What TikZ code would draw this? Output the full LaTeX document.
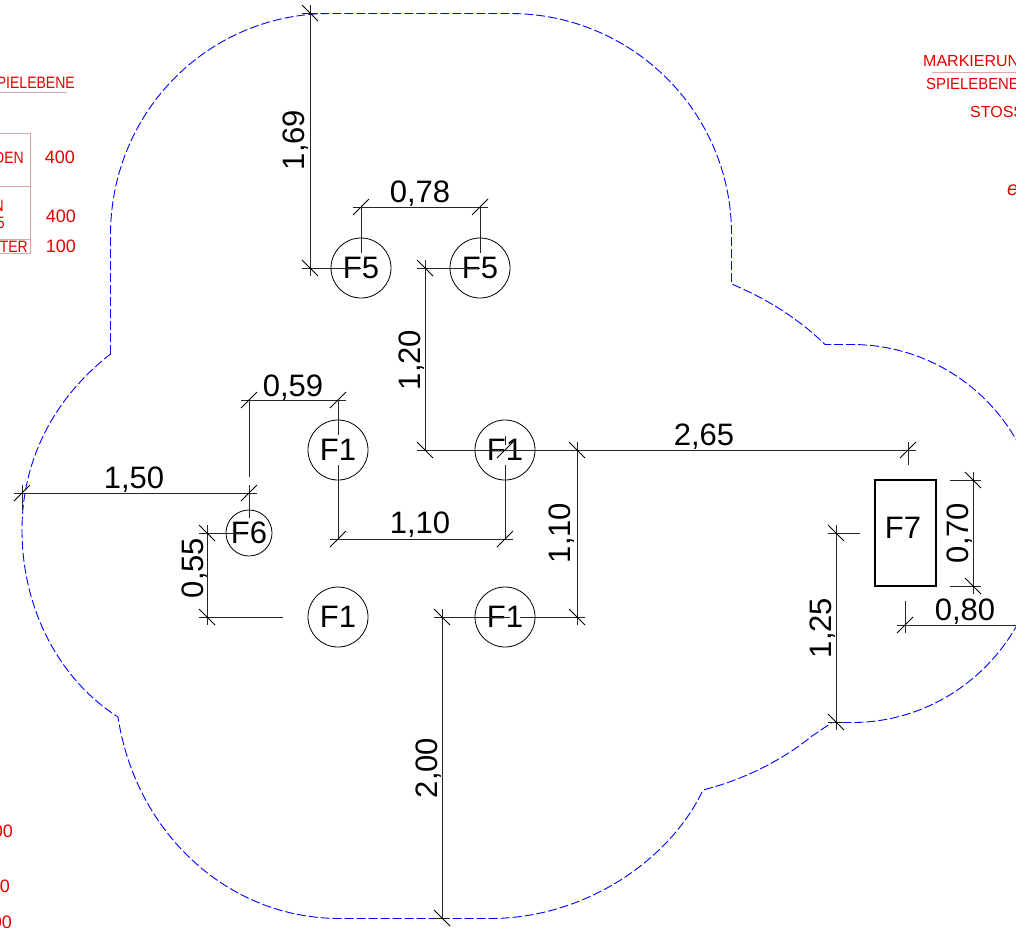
\documentclass[tikz,border=0pt]{standalone}
\usepackage{fontspec}
\setmainfont{Liberation Sans}
\newfontfamily\narrowred[FakeStretch=.85]{Liberation Sans}
\newfontfamily\midred[FakeStretch=.93]{Liberation Sans}
\newcommand{\tkf}[1]{\draw[tickmark] ([shift={(-8,8)}]#1) -- ([shift={(8,-8)}]#1);}
\newcommand{\tkb}[1]{\draw[tickmark] ([shift={(-8,-8)}]#1) -- ([shift={(8,8)}]#1);}
\tikzset{
  dimline/.style={line width=1pt,black!85,shorten <=-8pt,shorten >=-8pt},
  extline/.style={line width=1pt,black!85},
  tickmark/.style={line width=.8pt,black},
  boundary/.style={line width=.9pt,blue,dash pattern=on 9pt off 3pt},
  fcircle/.style={draw,circle,line width=.8pt,inner sep=0pt,minimum size=60pt,font=\fontsize{31}{31}\selectfont},
  dimtext/.style={anchor=base,font=\fontsize{31}{31}\selectfont,inner sep=0pt},
  vdimtext/.style={dimtext,rotate=90},
  redtext/.style={red!90!black,anchor=base west,inner sep=0pt,font=\fontsize{16}{16}\selectfont},
  redleft/.style={red!90!black,anchor=base east,inner sep=0pt,font=\narrowred\fontsize{16.5}{16.5}\selectfont},
  rednum/.style={red!90!black,anchor=base east,inner sep=0pt,font=\fontsize{18}{18}\selectfont},
  redrule/.style={line width=.8pt,red!60!black!35},
}
\begin{document}
\begin{tikzpicture}[x=1pt,y=-1pt]
\useasboundingbox (0,0) rectangle (1016,927);
\clip (0,0) rectangle (1016,927);
% boundary
\draw[boundary] (110.5,354) -- (110.5,235)
  .. controls (110.5,112) and (208,13.5) .. (330,13.5) -- (510,13.5)
  .. controls (632,13.5) and (731.5,112) .. (731.5,234) -- (731.5,284)
  .. controls (763,297) and (797,317) .. (825,344.5) -- (852,344.5)
  .. controls (956,344.5) and (1041,429) .. (1041,533)
  .. controls (1041,637) and (956,722.5) .. (852,722.5) -- (832,722.5) -- (812,736)
  .. controls (780,762) and (742,780) .. (703,790)
  .. controls (670,860) and (585,918.5) .. (490,918.5) -- (340,918.5)
  .. controls (225,918.5) and (135,830) .. (118,717)
  .. controls (60,680) and (22,610) .. (22,530)
  .. controls (22,455) and (58,395) .. (110.5,354);
% red margin marks
\node[redleft] (t1) at (75,88) {PIELEBENE};
\node[redleft] (t2) at (24,163) {DEN};
\node[redleft] (t3) at (4,211) {N};
\node[redleft] (t4) at (5,228) {5};
\node[redleft] (t5) at (28,252) {TER};
\node[rednum] (n1) at (75,163) {400};
\node[rednum] (n2) at (76,222) {400};
\node[rednum] (n3) at (76,252) {100};
\node[rednum] (n4) at (13,837) {00};
\node[rednum] (n5) at (10,892) {0};
\node[rednum] (n6) at (12,928) {00};
\node[redtext] (r1) at (923,66) {MARKIERUNG};
\node[redtext,font=\midred\fontsize{16}{16}\selectfont] (r2) at (926,89) {SPIELEBENE};
\node[redtext] (r3) at (970,117) {STOSS};
\node[redtext,font=\fontsize{20}{20}\selectfont\itshape] (r4) at (1007,195) {e};
\draw[redrule] (0,92) -- (67,92);
\draw[redrule] (0,133) -- (30,133) -- (30,253) -- (0,253);
\draw[redrule] (0,186) -- (30,186);
\draw[redrule] (0,239) -- (30,239);
\draw[redrule] (932,72) -- (1016,72);
% objects
\node[fcircle] (f5a) at (361,268) {F5};
\node[fcircle] (f5b) at (480,268) {F5};
\node[fcircle] (f1a) at (338,450) {F1};
\node[fcircle] (f1b) at (505,450) {F1};
\node[fcircle] (f1c) at (338,617) {F1};
\node[fcircle] (f1d) at (505,617) {F1};
\node[fcircle,minimum size=46pt] (f6) at (249,533) {F6};
\node[draw,line width=1.3pt,minimum width=61pt,minimum height=106pt,inner sep=0pt] (f7) at (905.5,533) {};
\node[font=\fontsize{31}{31}\selectfont,inner sep=0pt] (f7t) at (903,528) {F7};
% dimension points
\coordinate (a1) at (310,13);   \coordinate (a2) at (310,268);
\coordinate (b1) at (361,207);  \coordinate (b2) at (480,207);
\coordinate (c1) at (425,268);  \coordinate (c2) at (425,450);
\coordinate (d1) at (249,400);  \coordinate (d2) at (338,400);
\coordinate (e1) at (22,493);   \coordinate (e2) at (249,493);
\coordinate (g1) at (207,533);  \coordinate (g2) at (207,617);
\coordinate (h1) at (338,539);  \coordinate (h2) at (505,539);
\coordinate (i1) at (908,450);  \coordinate (i2) at (505,450);
\coordinate (j1) at (577,450);  \coordinate (j2) at (577,617);
\coordinate (k1) at (442,617);  \coordinate (k2) at (442,918);
\coordinate (l1) at (973,480);  \coordinate (l2) at (973,586);
\coordinate (m1) at (905,625);  \coordinate (m2) at (1030,625);
\coordinate (o1) at (836,533);  \coordinate (o2) at (836,722);
% extension end points
\coordinate (x1) at (302,13);   \coordinate (x1b) at (318,13);
\coordinate (x2) at (302,268);
\coordinate (x4) at (361,253);  \coordinate (x5) at (480,253);
\coordinate (x6) at (417,268);
\coordinate (x7) at (249,477);  \coordinate (x8) at (338,435);
\coordinate (x9) at (338,465);  \coordinate (x10) at (505,465);
\coordinate (x11) at (249,485); \coordinate (x12) at (249,518);
\coordinate (x13) at (22,485);  \coordinate (x14) at (22,510);
\coordinate (x15) at (199,533); \coordinate (x16) at (240,533);
\coordinate (x17) at (199,617); \coordinate (x18) at (283,617);
\coordinate (x19) at (434,617); \coordinate (x20) at (510,617);
\coordinate (x21) at (520,617); \coordinate (x22) at (585,617);
\coordinate (x23) at (908,465); \coordinate (x23b) at (908,442);
\coordinate (x24) at (950,480); \coordinate (x25) at (981,480);
\coordinate (x26) at (950,586); \coordinate (x27) at (981,586);
\coordinate (x28) at (905,601); \coordinate (x28b) at (905,633);
\coordinate (x29) at (828,533); \coordinate (x30) at (860,533);
\coordinate (x31) at (828,722); \coordinate (x32) at (844,722);
\coordinate (x33) at (434,918); \coordinate (x34) at (450,918);
\coordinate (x35) at (505,436); \coordinate (x36) at (505,445);
\coordinate (x37) at (417,450); \coordinate (x38) at (916,450);
% dimension lines
\draw[dimline] (a1) -- (a2);
\draw[dimline] (b1) -- (b2);
\draw[dimline,shorten >=0pt] (c1) -- (c2);
\draw[dimline] (d1) -- (d2);
\draw[dimline] (e1) -- (e2);
\draw[dimline] (g1) -- (g2);
\draw[dimline] (h1) -- (h2);
\draw[dimline] (j1) -- (j2);
\draw[dimline,shorten >=0pt] (k1) -- (k2);
\draw[dimline] (l1) -- (l2);
\draw[dimline,shorten >=0pt] (m1) -- (m2);
\draw[dimline] (o1) -- (o2);
% extension lines
\draw[extline] (x1) -- (x1b);
\draw[extline] (x2) -- (f5a.center);
\draw[extline] (x6) -- (f5b.center);
\draw[extline] (b1) -- (x4);
\draw[extline] (b2) -- (x5);
\draw[extline] (x37) -- (x38);
\draw[extline] (d1) -- (x7);
\draw[extline] (d2) -- (x8);
\draw[extline] (x9) -- (h1);
\draw[extline] (x10) -- (h2);
\draw[extline] (x11) -- (x12);
\draw[extline] (x13) -- (x14);
\draw[extline] (x15) -- (x16);
\draw[extline] (x17) -- (x18);
\draw[extline] (x19) -- (x20);
\draw[extline] (x21) -- (x22);
\draw[extline] (x23b) -- (x23);
\draw[extline] (x24) -- (x25);
\draw[extline] (x26) -- (x27);
\draw[extline] (x28) -- (x28b);
\draw[extline] (x29) -- (x30);
\draw[extline] (x31) -- (x32);
\draw[extline] (x33) -- (x34);
\draw[extline] (x35) -- (x36);
% ticks
\tkb{a1} \tkb{a2}
\tkf{b1} \tkf{b2}
\tkb{c1} \tkb{c2}
\tkf{d1} \tkf{d2}
\tkf{e1} \tkf{e2}
\tkb{g1} \tkb{g2}
\tkf{h1} \tkf{h2}
\tkf{i1} \tkf{i2}
\tkb{j1} \tkb{j2}
\tkb{k1} \tkb{k2}
\tkb{l1} \tkb{l2}
\tkf{m1}
\tkb{o1} \tkb{o2}
% dimension values
\node[vdimtext] (v169) at (304,140) {1,69};
\node[dimtext] (v078) at (420,202) {0,78};
\node[vdimtext] (v120) at (420,360) {1,20};
\node[dimtext] (v059) at (293,396) {0,59};
\node[dimtext] (v150) at (134,488) {1,50};
\node[vdimtext] (v055) at (203,568) {0,55};
\node[dimtext] (v110a) at (420,533) {1,10};
\node[dimtext] (v265) at (704,445) {2,65};
\node[vdimtext] (v110b) at (570,533) {1,10};
\node[vdimtext] (v200) at (437,768) {2,00};
\node[vdimtext] (v125) at (831,628) {1,25};
\node[vdimtext] (v070) at (968,533) {0,70};
\node[dimtext] (v080) at (965,620) {0,80};
\end{tikzpicture}
\end{document}
